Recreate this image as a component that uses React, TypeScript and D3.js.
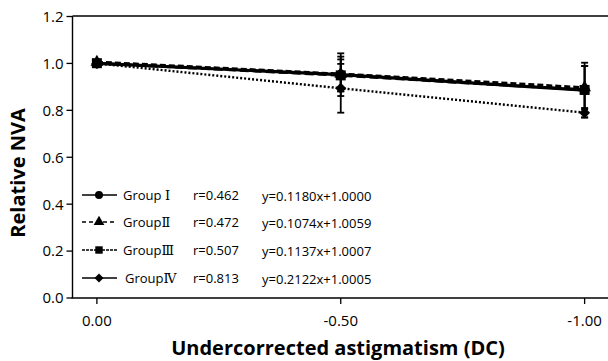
import React from "react";
import * as d3 from "d3";

const xValues = [0, -0.5, -1.0];
const xTicks = [0, -0.5, -1.0];
const xTickLabels = ["0.00", "-0.50", "-1.00"];
const yTicks = [0, 0.2, 0.4, 0.6, 0.8, 1.0, 1.2];

const groupPrefixes = ["Group ", "Group", "Group", "Group"];
const groupNumerals = ["Ⅰ", "Ⅱ", "Ⅲ", "Ⅳ"];
const rValues = ["r=0.462", "r=0.472", "r=0.507", "r=0.813"];
const equations = ["y=0.1180x+1.0000", "y=0.1074x+1.0059", "y=0.1137x+1.0007", "y=0.2122x+1.0005"];

const group1 = [1.0, 0.952, 0.886];
const group2 = [1.006, 0.955, 0.897];
const group3 = [1.001, 0.949, 0.887];
const group4 = [1.0, 0.894, 0.79];

const sd1 = [0, 0.091, 0.117];
const sd2 = [0, 0.074, 0.092];
const sd3 = [0, 0.068, 0.102];
const sd4 = [0, 0.104, 0.02];

const W = 608;
const H = 361;
const left = 72.5;
const right = 609;
const top = 16.5;
const bottom = 298;

const FONT = "'Open Sans', 'Noto Sans', sans-serif";
const NUM_FONT = "'DejaVu Serif', 'Liberation Serif', serif";

type Shape = "circle" | "triangle" | "square" | "diamond";

const series = [
  { prefix: groupPrefixes[0], num: groupNumerals[0], r: rValues[0], eq: equations[0], values: group1, sd: sd1, shape: "circle" as Shape, dash: "", width: 3.2, legendDash: "" },
  { prefix: groupPrefixes[1], num: groupNumerals[1], r: rValues[1], eq: equations[1], values: group2, sd: sd2, shape: "triangle" as Shape, dash: "6,3", width: 2.8, legendDash: "4,3" },
  { prefix: groupPrefixes[2], num: groupNumerals[2], r: rValues[2], eq: equations[2], values: group3, sd: sd3, shape: "square" as Shape, dash: "9,4", width: 2.8, legendDash: "3,1" },
  { prefix: groupPrefixes[3], num: groupNumerals[3], r: rValues[3], eq: equations[3], values: group4, sd: sd4, shape: "diamond" as Shape, dash: "2,2", width: 2.4, legendDash: "" },
];

function Marker({ shape, x, y, s }: { shape: Shape; x: number; y: number; s: number }) {
  if (shape === "diamond") {
    const path = d3.symbol().type(d3.symbolSquare).size(s)();
    return <path d={path || ""} transform={`translate(${x},${y}) rotate(45)`} fill="#000" />;
  }
  const sym = shape === "circle" ? d3.symbolCircle : shape === "triangle" ? d3.symbolTriangle : d3.symbolSquare;
  const path = d3.symbol().type(sym).size(s)();
  return <path d={path || ""} transform={`translate(${x},${y})`} fill="#000" />;
}

export default function App() {
  const x = d3.scaleLinear().domain([0.05, -1.05]).range([left, right]);
  const y = d3.scaleLinear().domain([0, 1.2]).range([bottom, top]);

  const line = d3
    .line<number>()
    .x((_, i) => x(xValues[i]))
    .y((d) => y(d));

  const legendRows = [195, 222, 250, 278];

  const sizes: Record<Shape, number> = { circle: 80, triangle: 70, square: 100, diamond: 60 };
  const legendSizes: Record<Shape, number> = { circle: 50, triangle: 50, square: 55, diamond: 40 };

  return (
    <svg width={W} height={H} style={{ position: "absolute", left: 0, top: 0, background: "#fff" }}>
      {/* axes */}
      <line x1={left} x2={left} y1={top - 0.5} y2={bottom} stroke="#000" strokeWidth={1.4} />
      <line x1={left - 1} x2={W} y1={bottom} y2={bottom} stroke="#000" strokeWidth={1.4} />
      <line x1={left} x2={W} y1={top - 0.5} y2={top - 0.5} stroke="#000" strokeWidth={1.4} />
      {yTicks.map((t) => (
        <g key={t}>
          <line x1={left - 6} x2={left} y1={y(t)} y2={y(t)} stroke="#000" strokeWidth={1.3} />
          <text x={left - 9} y={y(t)} dy="0.36em" textAnchor="end" fontFamily={FONT} fontSize={15} fill="#000">
            {t.toFixed(1)}
          </text>
        </g>
      ))}
      {xTicks.map((t, i) => (
        <g key={t}>
          <line x1={x(t)} x2={x(t)} y1={bottom} y2={bottom + 6} stroke="#000" strokeWidth={1.3} />
          <text x={x(t)} y={bottom + 28} textAnchor="middle" fontFamily={FONT} fontSize={15} fill="#000">
            {xTickLabels[i]}
          </text>
        </g>
      ))}
      <text
        transform={`translate(25,${173}) rotate(-90)`}
        textAnchor="middle"
        fontFamily={FONT}
        fontWeight="bold"
        fontSize={20}
        fill="#000"
      >
        Relative NVA
      </text>
      <text x={338} y={355} textAnchor="middle" fontFamily={FONT} fontWeight="bold" fontSize={20} fill="#000">
        Undercorrected astigmatism (DC)
      </text>

      {/* error bars */}
      {series.map((s, si) =>
        s.values.map((v, i) =>
          s.sd[i] > 0 ? (
            <g key={`e${si}-${i}`} stroke="#000" strokeWidth={1.8}>
              <line x1={x(xValues[i])} x2={x(xValues[i])} y1={y(v + s.sd[i])} y2={y(v - s.sd[i])} />
              <line x1={x(xValues[i]) - 3.5} x2={x(xValues[i]) + 3.5} y1={y(v + s.sd[i])} y2={y(v + s.sd[i])} />
              <line x1={x(xValues[i]) - 3.5} x2={x(xValues[i]) + 3.5} y1={y(v - s.sd[i])} y2={y(v - s.sd[i])} />
            </g>
          ) : null
        )
      )}

      {/* lines */}
      {series.map((s, si) => (
        <path key={`l${si}`} d={line(s.values) || ""} fill="none" stroke="#000" strokeWidth={s.width} strokeDasharray={s.dash} />
      ))}
      {/* markers */}
      {series.map((s, si) =>
        s.values.map((v, i) => <Marker key={`m${si}-${i}`} shape={s.shape} x={x(xValues[i])} y={y(v)} s={sizes[s.shape]} />)
      )}

      {/* legend */}
      {series.map((s, si) => {
        const ly = legendRows[si];
        return (
          <g key={`lg${si}`}>
            <line x1={82} x2={117} y1={ly} y2={ly} stroke="#000" strokeWidth={1.4} strokeDasharray={s.legendDash} />
            <Marker shape={s.shape} x={99} y={ly} s={legendSizes[s.shape]} />
            <text x={si === 3 ? 125 : 123} y={ly} dy="0.35em" fontFamily={FONT} fontSize={13} fill="#000">
              {s.prefix}
              <tspan fontFamily={NUM_FONT} fontSize={13}>{s.num}</tspan>
            </text>
            <text x={193} y={ly} dy="0.35em" fontFamily={FONT} fontSize={13} fill="#000">
              {s.r}
            </text>
            <text x={262} y={ly + 1} dy="0.35em" fontFamily={FONT} fontSize={13} fill="#000">
              {s.eq}
            </text>
          </g>
        );
      })}
    </svg>
  );
}
